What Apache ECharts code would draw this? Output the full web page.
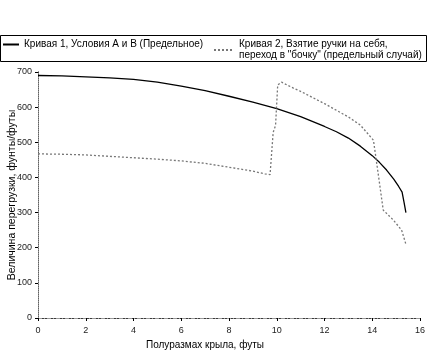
<!DOCTYPE html>
<html>
<head>
<meta charset="utf-8">
<script src="https://cdn.jsdelivr.net/npm/echarts@6/dist/echarts.min.js"></script>
<style>
  html, body { margin: 0; padding: 0; background: #fff; }
  #chart { width: 427px; height: 351px; }
</style>
</head>
<body>
<div id="chart"></div>
<script>
let chartDom = document.getElementById('chart');
let myChart = echarts.init(chartDom);

// tick labels
let xTicks = [0, 2, 4, 6, 8, 10, 12, 14, 16];
let yTicks = [0, 100, 200, 300, 400, 500, 600, 700];

// Curve 1: half-span (ft) vs load (lb/ft)
let curve1X = [0, 1, 2, 3, 4, 5, 6, 7, 8, 9, 10, 11, 12, 12.5, 13, 13.5, 14, 14.3, 14.6, 14.9, 15.1, 15.25, 15.33, 15.41];
let curve1Y = [690, 689, 686, 683, 679, 671, 660, 647, 631, 614, 596, 573, 545, 530, 512, 489, 462, 443, 421, 395, 375, 358, 330, 300];

// Curve 2: pull-up into roll
let curve2X = [0, 1, 2, 3, 4, 5, 6, 7, 8, 9, 9.5, 9.72, 9.85, 9.95, 10.04, 10.2, 10.7, 11, 12, 13, 13.5, 14.05, 14.25, 14.46, 14.88, 15.23, 15.4];
let curve2Y = [467, 466, 464, 460, 456, 452, 447, 440, 429, 418, 410, 408, 528, 548, 663, 671, 654, 645, 610, 572, 549, 506, 410, 307, 279, 250, 212];

let name1 = 'Кривая 1, Условия A и B (Предельное)';
let name2 = 'Кривая 2, Взятие ручки на себя,\nпереход в "бочку" (предельный случай)';

let seriesData1 = curve1X.map((x, i) => [x, curve1Y[i]]);
let seriesData2 = curve2X.map((x, i) => [x, curve2Y[i]]);

let baseFont = 'Liberation Sans, Arial, sans-serif';

let option = {
  animation: false,
  textStyle: { fontFamily: baseFont },
  graphic: [
    {
      type: 'rect',
      shape: { x: 0.5, y: 35.5, width: 426, height: 26 },
      style: { fill: 'none', stroke: '#000', lineWidth: 1 }
    }
  ],
  legend: [
    {
      data: [name1],
      left: 2,
      top: 39,
      padding: 0,
      itemWidth: 16,
      itemHeight: 8,
      itemGap: 4,
      itemStyle: { opacity: 0 },
      textStyle: { fontSize: 10, color: '#000', fontFamily: baseFont, lineHeight: 11 }
    },
    {
      data: [name2],
      left: 213,
      top: 39,
      padding: 0,
      itemWidth: 20,
      itemHeight: 8,
      itemGap: 4,
      itemStyle: { opacity: 0 },
      textStyle: { fontSize: 10, color: '#000', fontFamily: baseFont, lineHeight: 11 }
    }
  ],
  grid: {
    left: 38,
    right: 7,
    top: 72,
    bottom: 33,
    containLabel: false,
    outerBoundsMode: 'none'
  },
  xAxis: [
    {
      type: 'value',
      min: xTicks[0],
      max: xTicks[xTicks.length - 1],
      interval: 2,
      name: 'Полуразмах крыла, футы',
      nameLocation: 'middle',
      nameGap: 22,
      nameTextStyle: { fontSize: 10, color: '#000', padding: [0, 48, 0, 0] },
      axisLine: { lineStyle: { color: '#000', width: 1 } },
      axisTick: { length: 3, lineStyle: { color: '#000' } },
      axisLabel: { fontSize: 9, color: '#222', margin: 8 },
      splitLine: { show: false }
    },
    {
      type: 'value',
      position: 'top',
      min: xTicks[0],
      max: xTicks[xTicks.length - 1],
      axisLine: { show: true, lineStyle: { color: '#999', type: [4, 2, 1, 2], width: 1 } },
      axisTick: { show: false },
      axisLabel: { show: false },
      splitLine: { show: false }
    }
  ],
  yAxis: [
    {
      type: 'value',
      min: yTicks[0],
      max: yTicks[yTicks.length - 1],
      interval: 100,
      name: 'Величина перегрузки, фунты/футы',
      nameLocation: 'middle',
      nameGap: 20,
      nameMoveOverlap: false,
      nameTextStyle: { fontSize: 10.5, color: '#000' },
      axisLine: { show: true, lineStyle: { color: '#000', width: 1 } },
      axisTick: { show: true, length: 3, lineStyle: { color: '#000' } },
      axisLabel: { fontSize: 9, color: '#222', margin: 6 },
      splitLine: { show: false }
    },
    {
      type: 'value',
      position: 'right',
      min: yTicks[0],
      max: yTicks[yTicks.length - 1],
      axisLine: { show: true, lineStyle: { color: '#999', type: 'dotted', width: 1 } },
      axisTick: { show: false },
      axisLabel: { show: false },
      splitLine: { show: false }
    }
  ],
  series: [
    {
      name: name1,
      type: 'line',
      symbol: 'none',
      color: '#000',
      lineStyle: { color: '#000', width: 1.3 },
      data: seriesData1
    },
    {
      name: name2,
      type: 'line',
      symbol: 'none',
      color: '#777',
      lineStyle: { color: '#777', width: 1.3, type: [2, 2] },
      data: seriesData2
    }
  ]
};

option && myChart.setOption(option);
</script>
</body>
</html>
